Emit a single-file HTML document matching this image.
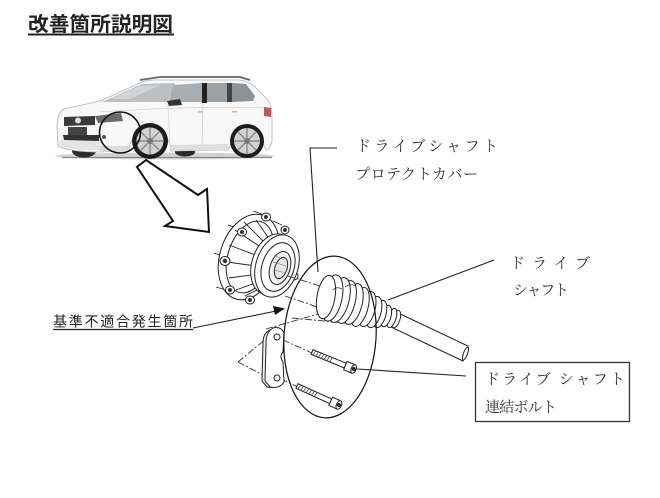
<!DOCTYPE html>
<html><head><meta charset="utf-8">
<style>
html,body{margin:0;padding:0;background:#fff;}
svg{display:block;}
.mc{font-family:"Liberation Serif","Noto Serif CJK SC","Noto Sans CJK JP",serif;font-size:15px;fill:#333;}
.gt{font-family:"Liberation Sans","Noto Sans CJK JP",sans-serif;}
</style></head>
<body>
<svg width="660" height="498" viewBox="0 0 660 498" xmlns="http://www.w3.org/2000/svg">
<rect width="660" height="498" fill="#fff"/>

<!-- Title -->
<text x="28" y="31" class="gt" font-size="20" font-weight="bold" fill="#222" textLength="145" lengthAdjust="spacingAndGlyphs">改善箇所説明図</text>
<rect x="28" y="33.5" width="146" height="2" fill="#222"/>

<!-- ===== CAR ===== -->
<g>
  <!-- ground shadow -->
  <ellipse cx="165" cy="156" rx="110" ry="3.5" fill="#d2d2d2"/>
  <line x1="62" y1="157.5" x2="272" y2="157.5" stroke="#8a8a8a" stroke-width="1.2"/>
  <!-- far side wheels -->
  <ellipse cx="84" cy="151" rx="12" ry="6.5" fill="#2a2a2a"/>
  <ellipse cx="185" cy="152" rx="10" ry="4.5" fill="#2a2a2a"/>
  <!-- body -->
  <path d="M58,146 L57,126 Q57,113 64,109 L100,101 L140,83 Q145,80 155,80 L240,80 Q250,81 258,90 L268,100 Q272,106 272,118 L272,142 Q270,149 266,150 A20,20 0 0 0 228,150 L171,151 A21,21 0 0 0 129,151 L100,152 Q70,152 58,146 Z" fill="#f8f8f8" stroke="#b5b5b5" stroke-width="0.8"/>
  <!-- lower shading -->
  <path d="M100,146 L129,146 L129,151 L100,152 Z" fill="#dcdcdc"/>
  <path d="M171,145 L228,144 L228,150 L171,151 Z" fill="#dedede"/>
  <path d="M60,140 L100,141 L100,150 Q70,151 59,145 Z" fill="#e4e4e4"/>
  <!-- shoulder line -->
  <path d="M100,112 Q180,106 268,108" fill="none" stroke="#d0d0d0" stroke-width="0.8"/>
  <!-- windshield -->
  <polygon points="102,102 142,84 175,83 168,102" fill="#bcc0c3"/>
  <polygon points="110,99 140,86 160,85 130,99" fill="#d2d5d7"/>
  <!-- front door window -->
  <polygon points="173,85 202,83 202,102 169,102" fill="#a9aeb2"/>
  <rect x="202" y="83" width="5" height="20" fill="#222"/>
  <polygon points="207,83 227,83 227,102 207,102" fill="#9ca1a5"/>
  <rect x="227" y="83" width="5" height="19" fill="#444"/>
  <polygon points="232,83 246,84 255,96 253,101 232,102" fill="#8e9398"/>
  <!-- roof rails -->
  <path d="M140,80 L160,77 L240,77 L250,80" fill="none" stroke="#666" stroke-width="1.8"/>
  <!-- mirror -->
  <path d="M167,101 L180,99 L182,105 L169,106 Z" fill="#333"/>
  <!-- door lines -->
  <line x1="203" y1="104" x2="202" y2="145" stroke="#cfcfcf" stroke-width="0.8"/>
  <line x1="168" y1="104" x2="170" y2="146" stroke="#d5d5d5" stroke-width="0.8"/>
  <rect x="198" y="111" width="5" height="1.5" fill="#bbb"/>
  <rect x="232" y="111" width="5" height="1.5" fill="#bbb"/>
  <!-- headlight -->
  <polygon points="95,116 121,113 123,121 98,123" fill="#6a6a6a"/>
  <!-- grille -->
  <polygon points="64,117 95,116 95,125 64,126" fill="#3a3a3a"/>
  <circle cx="78" cy="120.5" r="3" fill="#ddd"/>
  <!-- plate -->
  <rect x="68" y="127" width="19" height="8" fill="#444"/>
  <!-- lower intake -->
  <polygon points="63,135 99,135 99,141 64,140" fill="#333"/>
  <circle cx="104" cy="137" r="2" fill="#555"/>
  <!-- taillight -->
  <polygon points="264,107 271,108 271,117 264,116" fill="#b65a5a"/>
  <!-- front wheel -->
  <circle cx="150" cy="141" r="18" fill="#1c1c1c"/>
  <circle cx="150" cy="141" r="13.5" fill="#d2d2d2"/>
  <g stroke="#8a8a8a" stroke-width="1.4">
    <line x1="150" y1="128" x2="150" y2="154"/>
    <line x1="137" y1="141" x2="163" y2="141"/>
    <line x1="141" y1="132" x2="159" y2="150"/>
    <line x1="159" y1="132" x2="141" y2="150"/>
  </g>
  <circle cx="150" cy="141" r="3" fill="#777"/>
  <!-- rear wheel -->
  <circle cx="247" cy="141" r="17" fill="#1c1c1c"/>
  <circle cx="247" cy="141" r="13" fill="#d2d2d2"/>
  <g stroke="#8a8a8a" stroke-width="1.4">
    <line x1="247" y1="128" x2="247" y2="154"/>
    <line x1="234" y1="141" x2="260" y2="141"/>
    <line x1="238" y1="132" x2="256" y2="150"/>
    <line x1="256" y1="132" x2="238" y2="150"/>
  </g>
  <circle cx="247" cy="141" r="3" fill="#777"/>
  <!-- highlight circle -->
  <circle cx="120" cy="132.5" r="20.5" fill="none" stroke="#111" stroke-width="1.6"/>
</g>

<!-- big hollow arrow -->
<polygon points="146,160 137,167 173,221 165,226 209,232 207,189 198,195" fill="#fff" stroke="#111" stroke-width="2" stroke-linejoin="miter"/>

<!-- ===== FLANGE ===== -->
<g stroke="#222" stroke-width="1" fill="#fff">
  <g stroke-width="0.8">
    <line x1="253" y1="211" x2="262" y2="214"/>
    <line x1="228" y1="225" x2="240" y2="229"/>
    <line x1="214" y1="253" x2="222" y2="256"/>
    <line x1="216" y1="287" x2="226" y2="290"/>
    <line x1="273" y1="221" x2="282" y2="225"/>
  </g>
  <ellipse cx="249" cy="257" rx="29" ry="44" transform="rotate(18 249 257)"/>
  <ellipse cx="250" cy="257" rx="22" ry="37" transform="rotate(18 250 257)"/>
  <g stroke-width="0.9">
    <line x1="235" y1="230" x2="262" y2="248"/>
    <line x1="244" y1="222" x2="266" y2="244"/>
    <line x1="229" y1="245" x2="258" y2="256"/>
    <line x1="227" y1="262" x2="256" y2="266"/>
    <line x1="229" y1="278" x2="258" y2="274"/>
    <line x1="236" y1="290" x2="261" y2="281"/>
    <line x1="245" y1="296" x2="265" y2="286"/>
    <line x1="256" y1="220" x2="270" y2="240"/>
  </g>
  <g fill="#fff" stroke-width="1">
    <ellipse cx="266" cy="217" rx="4.5" ry="4"/>
    <ellipse cx="285" cy="230" rx="4" ry="4"/>
    <ellipse cx="242" cy="232" rx="4.5" ry="4"/>
    <ellipse cx="225" cy="261" rx="5" ry="4.5"/>
    <ellipse cx="230" cy="290" rx="4.5" ry="4"/>
    <ellipse cx="250" cy="300" rx="4.5" ry="4"/>
    <ellipse cx="294" cy="276" rx="4" ry="4"/>
  </g>
  <g fill="#333" stroke="none">
    <circle cx="266" cy="217" r="2"/>
    <circle cx="285" cy="230" r="2"/>
    <circle cx="242" cy="232" r="2"/>
    <circle cx="225" cy="261" r="2.2"/>
    <circle cx="230" cy="290" r="2"/>
    <circle cx="250" cy="300" r="2"/>
    <circle cx="294" cy="276" r="1.8"/>
  </g>
  <ellipse cx="272" cy="264" rx="20" ry="31" transform="rotate(18 272 264)"/>
  <ellipse cx="277" cy="266" rx="21" ry="32" transform="rotate(18 277 266)"/>
  <ellipse cx="278" cy="267" rx="16" ry="25" transform="rotate(18 278 267)"/>
  <ellipse cx="280" cy="268" rx="10" ry="17" transform="rotate(18 280 268)" fill="#f2f2f2"/>
  <ellipse cx="281" cy="268" rx="6" ry="11" transform="rotate(18 281 268)" fill="#e6e6e6"/>
  <g stroke="#777" stroke-width="0.6">
    <line x1="274" y1="255" x2="284" y2="260"/>
    <line x1="273" y1="262" x2="286" y2="266"/>
    <line x1="274" y1="270" x2="286" y2="273"/>
  </g>
</g>

<!-- dash-dot projection lines -->
<g stroke="#333" stroke-width="0.9" fill="none" stroke-dasharray="7,2,2,2">
  <line x1="288" y1="276" x2="330" y2="289"/>
  <line x1="285" y1="296" x2="326" y2="310"/>
  <line x1="266" y1="329" x2="318" y2="314"/>
  <line x1="292" y1="318" x2="345" y2="323"/>
  <line x1="238" y1="362" x2="273" y2="333"/>
  <line x1="238" y1="362" x2="265" y2="376"/>
  <line x1="283" y1="340" x2="312" y2="353"/>
  <line x1="281" y1="379" x2="298" y2="387"/>
</g>

<!-- ===== BOOT ===== -->
<g stroke="#222" stroke-width="1" fill="#fff">
  <polygon points="396,312 468,346 463,361 391,327"/>
  <ellipse cx="465.5" cy="353.5" rx="2" ry="7" transform="rotate(20 465.5 353.5)" fill="#fff"/>
  <ellipse cx="396" cy="319" rx="4" ry="9" transform="rotate(18 396 319)"/>
  <ellipse cx="392" cy="318" rx="4" ry="10" transform="rotate(18 392 318)"/>
  <ellipse cx="386" cy="316" rx="5" ry="11" transform="rotate(15 386 316)"/>
  <ellipse cx="380" cy="314" rx="6" ry="14" transform="rotate(15 380 314)"/>
  <ellipse cx="374" cy="312" rx="7" ry="16" transform="rotate(15 374 312)"/>
  <ellipse cx="367" cy="309" rx="8" ry="18" transform="rotate(15 367 309)"/>
  <ellipse cx="360" cy="307" rx="8" ry="20" transform="rotate(15 360 307)"/>
  <ellipse cx="353" cy="304" rx="9" ry="21" transform="rotate(15 353 304)"/>
  <ellipse cx="346" cy="302" rx="9" ry="22" transform="rotate(15 346 302)"/>
  <ellipse cx="339" cy="300" rx="10" ry="23" transform="rotate(15 339 300)"/>
  <ellipse cx="332" cy="298" rx="10" ry="23.5" transform="rotate(12 332 298)"/>
  <ellipse cx="326" cy="297" rx="9" ry="22" transform="rotate(10 326 297)"/>
  <path d="M345,287 Q350,283 356,286" fill="none" stroke-width="0.7"/>
  <path d="M333,290 Q337,286 342,289" fill="none" stroke-width="0.7"/>
</g>

<!-- ===== BRACKET ===== -->
<g stroke="#222" stroke-width="1" fill="#fff">
  <path d="M270,330 Q278,327 281,334 L280,352 Q276,356 280,362 L281,382 Q277,389 267,387 L262,381 L263,343 Q263,333 270,330 Z" fill="#f4f4f4"/>
  <path d="M273,328 Q281,326 284,333 L283,352 Q279,356 283,362 L284,382 Q280,389 270,387 L265,381 L266,343 Q266,332 273,328 Z"/>
  <circle cx="277" cy="337" r="3"/>
  <circle cx="277" cy="378" r="3"/>
</g>

<!-- ===== BOLTS ===== -->
<g stroke="#222" stroke-width="1" fill="#fff">
  <g transform="translate(312,352) rotate(22.2)">
    <rect x="0" y="-2.5" width="36" height="5"/>
    <g stroke="#444" stroke-width="0.8">
      <line x1="3" y1="-2.5" x2="2" y2="2.5"/><line x1="6" y1="-2.5" x2="5" y2="2.5"/>
      <line x1="9" y1="-2.5" x2="8" y2="2.5"/><line x1="12" y1="-2.5" x2="11" y2="2.5"/>
      <line x1="15" y1="-2.5" x2="14" y2="2.5"/><line x1="18" y1="-2.5" x2="17" y2="2.5"/>
      <line x1="21" y1="-2.5" x2="20" y2="2.5"/>
    </g>
    <rect x="36" y="-4.5" width="9" height="9"/>
    <ellipse cx="45" cy="0" rx="2.5" ry="4.5"/>
    <circle cx="45" cy="0" r="1.5" fill="#333"/>
  </g>
  <g transform="translate(297,386) rotate(24.4)">
    <rect x="0" y="-2.5" width="37" height="5"/>
    <g stroke="#444" stroke-width="0.8">
      <line x1="3" y1="-2.5" x2="2" y2="2.5"/><line x1="6" y1="-2.5" x2="5" y2="2.5"/>
      <line x1="9" y1="-2.5" x2="8" y2="2.5"/><line x1="12" y1="-2.5" x2="11" y2="2.5"/>
      <line x1="15" y1="-2.5" x2="14" y2="2.5"/><line x1="18" y1="-2.5" x2="17" y2="2.5"/>
      <line x1="21" y1="-2.5" x2="20" y2="2.5"/>
    </g>
    <rect x="37" y="-4.5" width="9" height="9"/>
    <ellipse cx="46" cy="0" rx="2.5" ry="4.5"/>
    <circle cx="46" cy="0" r="1.5" fill="#333"/>
  </g>
</g>

<!-- big ellipse -->
<ellipse cx="330" cy="337" rx="46" ry="81" transform="rotate(4 330 337)" fill="none" stroke="#111" stroke-width="1.2"/>

<!-- leaders -->
<g stroke="#222" stroke-width="1.1" fill="none">
  <polyline points="337,148 310,148 318,272"/>
  <line x1="494" y1="260" x2="388" y2="300"/>
  <line x1="357" y1="369" x2="466" y2="376"/>
  <line x1="193" y1="328" x2="276" y2="311"/>
</g>
<polygon points="285,308.5 273,306 275,315" fill="#111"/>

<!-- label box -->
<rect x="475.5" y="362.5" width="154" height="59" fill="none" stroke="#333" stroke-width="1.3"/>

<!-- labels -->
<text x="356" y="151" class="mc" textLength="142" lengthAdjust="spacing">ドライブシャフト</text>
<text x="355" y="179" class="mc" textLength="123" lengthAdjust="spacing">プロテクトカバー</text>
<text x="510" y="268" class="mc" textLength="80" lengthAdjust="spacing">ドライブ</text>
<text x="513" y="295" class="mc" textLength="56" lengthAdjust="spacing">シャフト</text>
<text x="485" y="384" class="mc" textLength="140" lengthAdjust="spacing">ドライブ シャフト</text>
<text x="485" y="412" class="mc" textLength="72" lengthAdjust="spacing">連結ボルト</text>

<text x="53" y="326.5" class="gt" font-size="14" fill="#222" textLength="140" lengthAdjust="spacing">基準不適合発生箇所</text>
<line x1="53" y1="329.5" x2="193" y2="329.5" stroke="#222" stroke-width="1.2"/>
</svg>
</body></html>
